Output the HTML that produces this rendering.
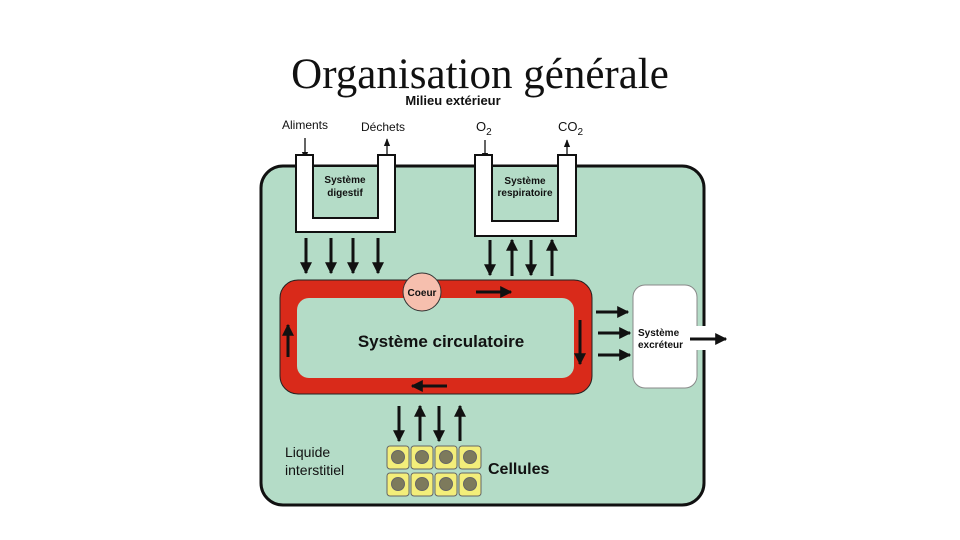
<!DOCTYPE html>
<html><head><meta charset="utf-8"><style>
html,body{margin:0;padding:0;background:#fff;width:960px;height:540px;overflow:hidden}
svg{display:block}
text{font-family:"Liberation Sans",sans-serif;fill:#111}
</style></head><body>
<svg width="960" height="540" viewBox="0 0 960 540">
<defs>
<marker id="a" viewBox="0 0 10 10" refX="9" refY="5" markerWidth="4" markerHeight="4" orient="auto"><path d="M0,0L10,5L0,10z" fill="#111"/></marker>
<marker id="s" viewBox="0 0 10 10" refX="9" refY="5" markerWidth="6" markerHeight="6" orient="auto"><path d="M0,1L10,5L0,9z" fill="#111"/></marker>
</defs>
<text x="480" y="88" text-anchor="middle" style="font-family:'Liberation Serif',serif;font-size:43px">Organisation générale</text>
<text x="453" y="105" text-anchor="middle" font-size="13" font-weight="bold">Milieu extérieur</text>
<text x="282" y="129" font-size="12">Aliments</text>
<text x="361" y="131" font-size="12">Déchets</text>
<text x="476" y="131" font-size="13">O<tspan font-size="10" dy="4">2</tspan></text>
<text x="558" y="131" font-size="13">CO<tspan font-size="10" dy="4">2</tspan></text>
<g stroke="#111" stroke-width="1.3" fill="none">
<line x1="305" y1="138" x2="305" y2="159" marker-end="url(#s)"/>
<line x1="387" y1="160" x2="387" y2="139" marker-end="url(#s)"/>
<line x1="485" y1="140" x2="485" y2="160" marker-end="url(#s)"/>
<line x1="567" y1="160" x2="567" y2="140" marker-end="url(#s)"/>
</g>
<rect x="261" y="166" width="443" height="339" rx="22" fill="#b4dcc7" stroke="#111" stroke-width="3"/>
<path d="M296,155V232H395V155H378V218H313V155Z" fill="#fff" stroke="#111" stroke-width="2"/>
<rect x="314" y="167" width="63" height="50" fill="#b4dcc7"/>
<line x1="313" y1="166" x2="378" y2="166" stroke="#111" stroke-width="2"/>
<text x="345" y="183" text-anchor="middle" font-size="10" font-weight="bold">Système</text>
<text x="345" y="196" text-anchor="middle" font-size="10" font-weight="bold">digestif</text>
<path d="M475,155V236H576V155H558V221H492V155Z" fill="#fff" stroke="#111" stroke-width="2"/>
<rect x="493" y="167" width="64" height="53" fill="#b4dcc7"/>
<line x1="492" y1="166" x2="558" y2="166" stroke="#111" stroke-width="2"/>
<text x="525" y="184" text-anchor="middle" font-size="10" font-weight="bold">Système</text>
<text x="525" y="196" text-anchor="middle" font-size="10" font-weight="bold">respiratoire</text>
<g stroke="#111" stroke-width="3" marker-end="url(#a)">
<line x1="306" y1="238" x2="306" y2="273"/><line x1="331" y1="238" x2="331" y2="273"/>
<line x1="353" y1="238" x2="353" y2="273"/><line x1="378" y1="238" x2="378" y2="273"/>
<line x1="490" y1="240" x2="490" y2="275"/><line x1="512" y1="276" x2="512" y2="240"/>
<line x1="531" y1="240" x2="531" y2="275"/><line x1="552" y1="276" x2="552" y2="240"/>
<line x1="399" y1="406" x2="399" y2="441"/><line x1="420" y1="441" x2="420" y2="406"/>
<line x1="439" y1="406" x2="439" y2="441"/><line x1="460" y1="441" x2="460" y2="406"/>
<line x1="596" y1="312" x2="628" y2="312"/><line x1="598" y1="333" x2="630" y2="333"/>
<line x1="598" y1="355" x2="630" y2="355"/>
</g>
<rect x="280" y="280" width="312" height="114" rx="18" fill="#d92a1a" stroke="#222" stroke-width="1"/>
<rect x="297" y="298" width="277" height="80" rx="12" fill="#b4dcc7"/>
<circle cx="422" cy="292" r="19" fill="#f6bfae" stroke="#333" stroke-width="1"/>
<text x="422" y="296" text-anchor="middle" font-size="10" font-weight="bold">Coeur</text>
<g stroke="#111" stroke-width="3" marker-end="url(#a)">
<line x1="476" y1="292" x2="511" y2="292"/>
<line x1="580" y1="320" x2="580" y2="364"/>
<line x1="447" y1="386" x2="412" y2="386"/>
<line x1="288" y1="357" x2="288" y2="325"/>
</g>
<text x="441" y="347" text-anchor="middle" font-size="17" font-weight="bold">Système circulatoire</text>
<rect x="633" y="285" width="64" height="103" rx="12" fill="#fff" stroke="#888" stroke-width="1"/>
<rect x="690" y="326" width="22" height="24" fill="#fff"/>
<text x="638" y="336" font-size="10" font-weight="bold">Système</text>
<text x="638" y="348" font-size="10" font-weight="bold">excréteur</text>
<line x1="690" y1="339" x2="726" y2="339" stroke="#111" stroke-width="3" marker-end="url(#a)"/>
<g stroke="#666" stroke-width="1">
<rect x="387" y="446" width="22" height="23" rx="3" fill="#f3ee7a"/><rect x="411" y="446" width="22" height="23" rx="3" fill="#f3ee7a"/>
<rect x="435" y="446" width="22" height="23" rx="3" fill="#f3ee7a"/><rect x="459" y="446" width="22" height="23" rx="3" fill="#f3ee7a"/>
<rect x="387" y="473" width="22" height="23" rx="3" fill="#f3ee7a"/><rect x="411" y="473" width="22" height="23" rx="3" fill="#f3ee7a"/>
<rect x="435" y="473" width="22" height="23" rx="3" fill="#f3ee7a"/><rect x="459" y="473" width="22" height="23" rx="3" fill="#f3ee7a"/>
<g fill="#7d7a5c">
<circle cx="398" cy="457" r="6.5"/><circle cx="422" cy="457" r="6.5"/><circle cx="446" cy="457" r="6.5"/><circle cx="470" cy="457" r="6.5"/>
<circle cx="398" cy="484" r="6.5"/><circle cx="422" cy="484" r="6.5"/><circle cx="446" cy="484" r="6.5"/><circle cx="470" cy="484" r="6.5"/>
</g></g>
<text x="285" y="457" font-size="14">Liquide</text>
<text x="285" y="475" font-size="14">interstitiel</text>
<text x="488" y="474" font-size="16" font-weight="bold">Cellules</text>
</svg>
</body></html>
